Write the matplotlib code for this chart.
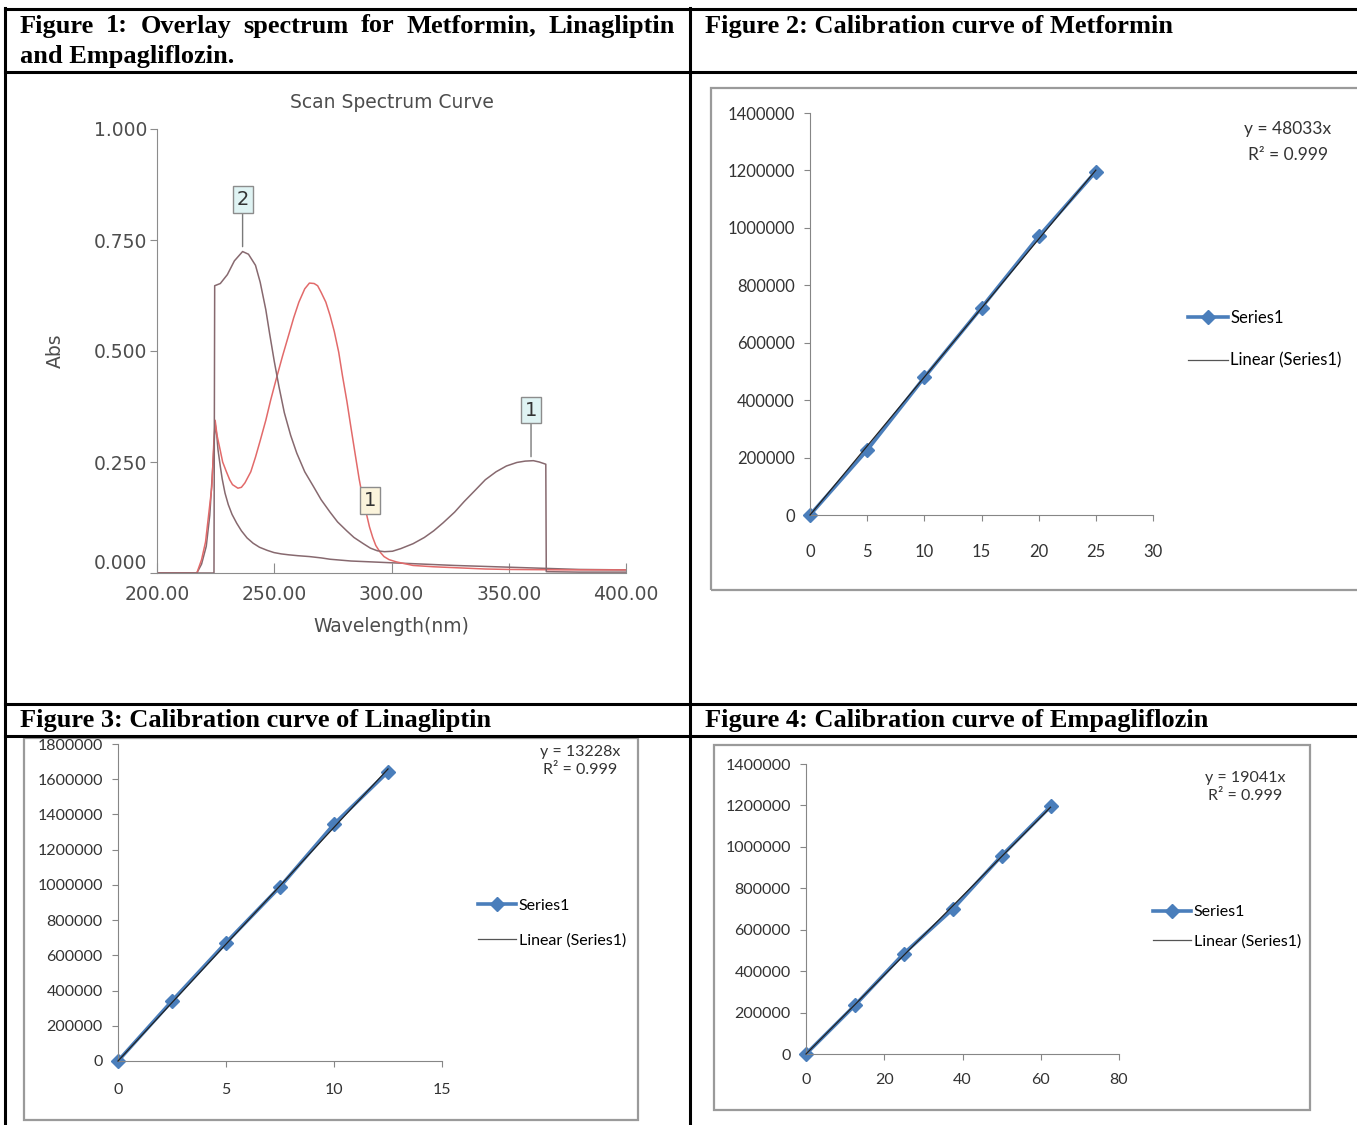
import numpy as np
import matplotlib
matplotlib.use('Agg')
import matplotlib.pyplot as plt
from matplotlib.lines import Line2D
from matplotlib.patches import Rectangle

W, H = 1357, 1125

# ---- Figure 1: overlay UV spectrum ----
wl_a = [200, 210, 218, 224.3, 224.6, 227, 230, 233, 236.5, 239, 242, 244, 246.4, 248, 250, 252,
        254.3, 257, 259.6, 263, 266.7, 270, 273.8, 277, 280.9, 284, 288, 291, 294, 297, 300.4,
        304, 309.2, 314, 318, 322, 326.9, 331, 335.8, 340, 344.6, 349, 353.5, 357, 360.5, 363,
        365.8, 366, 380, 400]
abs_a = [0, 0, 0, 0, 0.647, 0.652, 0.672, 0.703, 0.724, 0.718, 0.693, 0.655, 0.593, 0.540, 0.477,
         0.420, 0.361, 0.310, 0.270, 0.228, 0.195, 0.165, 0.137, 0.115, 0.095, 0.080, 0.066, 0.056,
         0.050, 0.048, 0.049, 0.055, 0.066, 0.080, 0.095, 0.113, 0.137, 0.161, 0.187, 0.210, 0.228,
         0.241, 0.249, 0.252, 0.253, 0.250, 0.245, 0.003, 0.002, 0.002]

wl_b = [200, 210, 217, 219, 220.7, 222, 223.4, 224.2, 224.8, 225.6, 226.9, 228, 229.6, 231, 232.2,
        234.5, 236, 237.5, 240, 242, 244, 246.4, 248.5, 250.8, 253.5, 256.1, 258.3, 260.5, 263,
        265, 267, 268.5, 270, 272, 273.8, 275.6, 277.5, 279.1, 281, 282.7, 284.5, 286.2, 287.5,
        288.8, 290.6, 292, 293.3, 295, 296.8, 299, 302.1, 309.2, 318, 326.9, 340, 350, 375, 400]
abs_b = [0, 0, 0, 0.03, 0.07, 0.13, 0.195, 0.29, 0.344, 0.31, 0.278, 0.25, 0.228, 0.21, 0.199,
         0.191, 0.193, 0.203, 0.228, 0.261, 0.298, 0.344, 0.39, 0.436, 0.488, 0.535, 0.575, 0.610,
         0.640, 0.653, 0.652, 0.647, 0.632, 0.610, 0.580, 0.544, 0.497, 0.444, 0.386, 0.328, 0.268,
         0.212, 0.175, 0.145, 0.104, 0.08, 0.062, 0.048, 0.037, 0.030, 0.025, 0.017, 0.014, 0.012,
         0.009, 0.008, 0.007, 0.007]

wl_c = [200, 217, 219, 221, 222.5, 223.8, 224.8, 225.5, 226, 227, 227.8, 229, 230.4, 232, 234, 236,
        238.4, 241, 243.7, 247, 249.9, 253, 256.1, 260, 265, 270, 273.8, 282.7, 291.5, 300, 309.2,
        326.9, 344.6, 362.3, 380, 400]
abs_c = [0, 0, 0.02, 0.06, 0.13, 0.24, 0.336, 0.31, 0.278, 0.24, 0.212, 0.18, 0.154, 0.132, 0.112,
         0.095, 0.079, 0.067, 0.058, 0.051, 0.046, 0.043, 0.041, 0.039, 0.037, 0.034, 0.031, 0.027,
         0.025, 0.023, 0.021, 0.017, 0.014, 0.011, 0.008, 0.007]

wl_ticks = [200, 250, 300, 350, 400]
abs_ticks = [0, 0.25, 0.5, 0.75, 1.0]

# ---- Figures 2-4: calibration curves ----
met_conc = [0, 5, 10, 15, 20, 25]
met_area = [0, 226000, 479000, 722000, 970000, 1196000]
lina_conc = [0, 2.5, 5, 7.5, 10, 12.5]
lina_area = [0, 341000, 672000, 989000, 1345000, 1642000]
empa_conc = [0, 12.5, 25, 37.5, 50, 62.5]
empa_area = [0, 235000, 485000, 699000, 957000, 1195000]

met_eq = 'y = 48033x\nR² = 0.999'
lina_eq = 'y = 13228x\nR² = 0.999'
empa_eq = 'y = 19041x\nR² = 0.999'

headers = {
    'f2': 'Figure 2: Calibration curve of Metformin',
    'f3': 'Figure 3: Calibration curve of Linagliptin',
    'f4': 'Figure 4: Calibration curve of Empagliflozin',
}
f1_line1 = 'Figure 1: Overlay spectrum for Metformin, Linagliptin'
f1_line2 = 'and Empagliflozin.'

BLUE = '#4a7ebb'
AXC = '#868686'
XL_FONT = ['Lato', 'DejaVu Sans']


def box(x0, y0, x1, y1):
    return [x0 / W, 1 - y1 / H, (x1 - x0) / W, (y1 - y0) / H]


fig = plt.figure(figsize=(W / 100, H / 100), dpi=100)
fig.patch.set_facecolor('white')

# table grid
def hline(y, x0=5, x1=W):
    fig.add_artist(Line2D([x0 / W, x1 / W], [1 - y / H, 1 - y / H], color='black', lw=2.2))

def vline(x, y0=9, y1=H):
    fig.add_artist(Line2D([x / W, x / W], [1 - y0 / H, 1 - y1 / H], color='black', lw=2.2))

for yy in [9, 72, 704, 736]:
    hline(yy)
vline(5, 8)
vline(690, 8)

hdr = dict(family='Liberation Serif', weight='bold', fontsize=19, va='center', color='black')

# justified first header line
r = fig.canvas.get_renderer()
words = f1_line1.split(' ')
txts = [fig.text(0, 1 - 26 / H, w, **hdr) for w in words]
widths = [t.get_window_extent(r).width for t in txts]
gap = (675 - 20 - sum(widths)) / (len(words) - 1)
xx = 20
for t, w in zip(txts, widths):
    t.set_x(xx / W)
    xx += w + gap
fig.text(20 / W, 1 - 57 / H, f1_line2, **hdr)
fig.text(705 / W, 1 - 26 / H, headers['f2'], **hdr)
fig.text(20 / W, 1 - 721 / H, headers['f3'], **hdr)
fig.text(705 / W, 1 - 721 / H, headers['f4'], **hdr)

# ---------------- Figure 1 ----------------
ax1 = fig.add_axes(box(157, 129, 626, 573))
ax1.plot(wl_c, abs_c, color='#87696f', lw=1.1)
ax1.plot(wl_b, abs_b, color='#e26a6a', lw=1.1)
ax1.plot(wl_a, abs_a, color='#87696f', lw=1.1)
ax1.set_xlim(200, 400)
ax1.set_ylim(0, 1)
for s in ['top', 'right']:
    ax1.spines[s].set_visible(False)
for s in ['left', 'bottom']:
    ax1.spines[s].set_color('#8c8c8c')
ax1.set_xticks(wl_ticks)
ax1.set_xticklabels(['%.2f' % v for v in wl_ticks])
ax1.set_yticks(abs_ticks)
ax1.set_yticklabels(['%.3f' % v for v in abs_ticks])
ax1.tick_params(axis='x', direction='in', length=7, pad=9, colors='#8c8c8c', labelcolor='#4d4d4d',
                labelsize=13.5)
ax1.tick_params(axis='y', direction='out', length=5, pad=2, colors='#8c8c8c', labelcolor='#4d4d4d',
                labelsize=13.5)
ax1.yaxis.get_major_ticks()[0].label1.set_va('bottom')
ax1.set_xlabel('Wavelength(nm)', fontsize=13.5, color='#4d4d4d')
ax1.xaxis.set_label_coords(0.5, -0.1)
ax1.set_ylabel('Abs', fontsize=13.5, color='#4d4d4d')
ax1.yaxis.set_label_coords(-0.196, 0.5)
ax1.text(0.5, 1.0586, 'Scan Spectrum Curve', transform=ax1.transAxes, ha='center', va='center',
         fontsize=13.5, color='#4d4d4d')

lab_kw = dict(ha='center', va='center', fontsize=14, color='#333333',
              arrowprops=dict(arrowstyle='-', color='#7a7a7a', lw=1, shrinkA=0, shrinkB=0))
ax1.annotate('2', xy=(236.5, 0.735), xytext=(236.5, 0.842),
             bbox=dict(boxstyle='square,pad=0.2', fc='#dff3f3', ec='#8c8c8c', lw=1), **lab_kw)
ax1.annotate('1', xy=(359.5, 0.262), xytext=(359.5, 0.367),
             bbox=dict(boxstyle='square,pad=0.2', fc='#dff3f3', ec='#8c8c8c', lw=1), **lab_kw)
ax1.text(291, 0.164, '1', ha='center', va='center', fontsize=14, color='#333333',
         bbox=dict(boxstyle='square,pad=0.2', fc='#fbf4dc', ec='#8c8c8c', lw=1))


# ---------------- Excel style calibration charts ----------------
def calib(frame, axbox, conc, area, xmax, xstep, ymax, eq, eq_xy, leg_xy, fs, xpad,
          eq_fs, eq_ls, leg_ls):
    fig.add_artist(Rectangle((frame[0] / W, 1 - frame[3] / H), (frame[2] - frame[0]) / W,
                             (frame[3] - frame[1]) / H, transform=fig.transFigure,
                             fill=False, ec='#9a9a9a', lw=1.6))
    ax = fig.add_axes(box(*axbox))
    c = np.array(conc, dtype=float)
    a = np.array(area, dtype=float)
    slope = np.sum(c * a) / np.sum(c * c)
    ax.plot(c, a, color=BLUE, lw=2.6, marker='D', ms=7, mec=BLUE, mfc=BLUE, zorder=2,
            clip_on=False)
    fit_x = np.array([0, c.max()])
    ax.plot(fit_x, slope * fit_x, color='#222222', lw=0.9, zorder=3, clip_on=False)
    ax.set_xlim(0, xmax)
    ax.set_ylim(0, ymax)
    ax.set_xticks(np.arange(0, xmax + 1, xstep))
    ax.set_yticks(np.arange(0, ymax + 1, 200000))
    ax.ticklabel_format(style='plain', useOffset=False)
    for s in ['top', 'right']:
        ax.spines[s].set_visible(False)
    for s in ['left', 'bottom']:
        ax.spines[s].set_color(AXC)
    ax.tick_params(axis='y', direction='out', length=4, pad=7, colors=AXC, labelcolor='#333333',
                   labelsize=fs)
    ax.tick_params(axis='x', direction='out', length=4, pad=xpad, colors=AXC, labelcolor='#333333',
                   labelsize=fs)
    for lab in ax.get_xticklabels() + ax.get_yticklabels():
        lab.set_family(XL_FONT)
    fig.text(eq_xy[0] / W, 1 - eq_xy[1] / H, eq, ha='center', va='center', fontsize=eq_fs,
             family=XL_FONT, color='#333333', linespacing=eq_ls)
    handles = [Line2D([], [], color=BLUE, lw=2.6, marker='D', ms=7),
               Line2D([], [], color='#555555', lw=0.9)]
    ax.legend(handles, ['Series1', 'Linear (Series1)'], loc='center left',
              bbox_to_anchor=(leg_xy[0] / W, 1 - leg_xy[1] / H), bbox_transform=fig.transFigure,
              frameon=False, borderpad=0, borderaxespad=0, handlelength=2.4, handletextpad=0.15,
              labelspacing=leg_ls, prop={'family': XL_FONT, 'size': fs})
    return ax


calib((711, 88, 1362, 590), (810, 113, 1153, 515), met_conc, met_area, 30, 5, 1400000,
      met_eq, (1288, 142), (1188, 339), 12, 17, 12.5, 1.75, 1.6)
calib((24, 738, 638, 1120), (118, 744, 442, 1061), lina_conc, lina_area, 15, 5, 1800000,
      lina_eq, (580, 761), (478, 923), 11.5, 12, 11.5, 1.45, 1.3)
calib((714, 745, 1310, 1110), (806, 764, 1119, 1054), empa_conc, empa_area, 80, 20, 1400000,
      empa_eq, (1245, 787), (1153, 927), 11.5, 10, 11.5, 1.4, 0.95)

fig.savefig('out.png', dpi=100, facecolor='white')
